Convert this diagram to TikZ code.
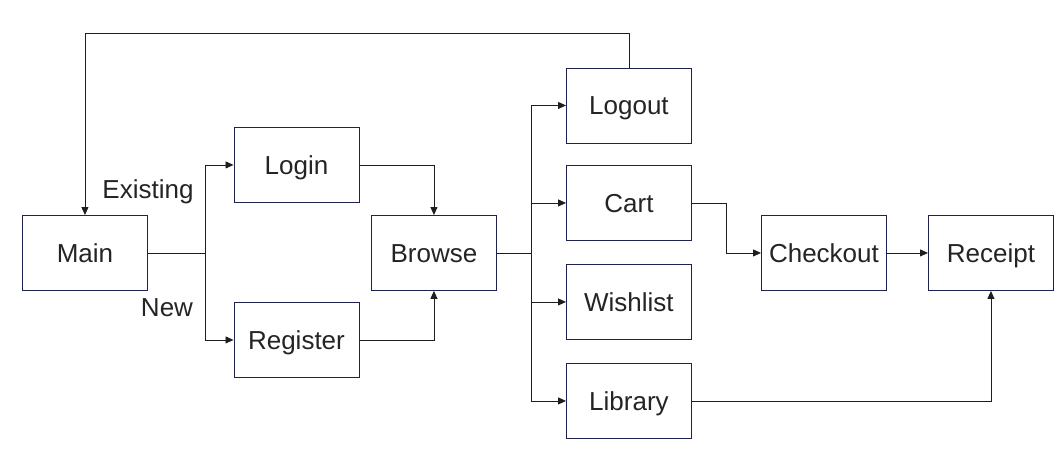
\documentclass[tikz,border=0pt]{standalone}
\usepackage{fontspec}
\setmainfont{Liberation Sans}
\usetikzlibrary{arrows.meta}
\definecolor{boxcol}{RGB}{30,34,80}
\definecolor{txtcol}{RGB}{36,36,36}
\definecolor{linecol}{RGB}{30,30,30}
\begin{document}
\begin{tikzpicture}[x=1pt,y=-1pt,
  box/.style={draw=boxcol,line width=0.9pt,minimum width=125pt,minimum height=75pt,inner sep=0pt,
    font=\fontsize{26}{29}\selectfont,text=txtcol,anchor=north west,
    text height=18.6pt,text depth=0pt},
  lbl/.style={font=\fontsize{26}{29}\selectfont,text=txtcol,inner sep=0pt},
  conn/.style={draw=linecol,line width=0.9pt},
  arr/.style={conn,-{Triangle[length=8pt,width=7pt]}}]
\useasboundingbox (0,0) rectangle (1057,450);
\node[box] (main) at (22,215) {Main};
\node[box] (login) at (233.5,127) {Login};
\node[box] (reg) at (233.5,302) {Register};
\node[box] (browse) at (371,215) {Browse};
\node[box] (logout) at (566,67.5) {Logout};
\node[box] (cart) at (566,165) {Cart};
\node[box] (wish) at (566,264) {Wishlist};
\node[box] (lib) at (566,363) {Library};
\node[box] (check) at (761,215) {Checkout};
\node[box] (rec) at (928,215) {Receipt};
\node[lbl] (ex) at (148,192) {Existing};
\node[lbl] (new) at (167,308) {New};
\coordinate (b1) at ([xshift=58pt]main.east);
\coordinate (b2) at ([xshift=35pt]browse.east);
\draw[conn] (main.east) -- (b1);
\draw[arr] (b1) |- (login.west);
\draw[arr] (b1) |- (reg.west);
\draw[arr] (login.east) -| (browse.north);
\draw[arr] (reg.east) -| (browse.south);
\draw[conn] (browse.east) -- (b2);
\draw[arr] (b2) |- (logout.west);
\draw[arr] (b2) |- (cart.west);
\draw[arr] (b2) |- (wish.west);
\draw[arr] (b2) |- (lib.west);
\draw[arr] (cart.east) -- ++(34.5,0) |- (check.west);
\draw[arr] (check.east) -- (rec.west);
\draw[arr] (lib.east) -| (rec.south);
\draw[arr] (logout.north) -- ++(0,-34.5) -| (main.north);
\end{tikzpicture}
\end{document}
